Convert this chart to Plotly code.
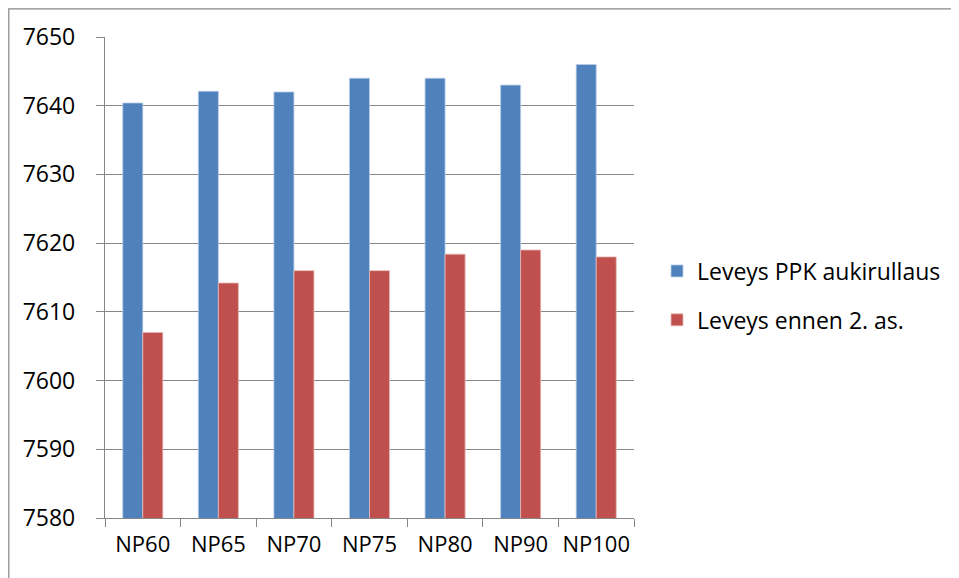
import plotly.graph_objects as go

categories = ["NP60", "NP65", "NP70", "NP75", "NP80", "NP90", "NP100"]
ppk_aukirullaus = [7640.4, 7642.1, 7642.0, 7644.0, 7644.0, 7643.0, 7646.0]
ennen_2_as = [7607.0, 7614.2, 7616.0, 7616.0, 7618.4, 7619.0, 7618.0]
y_ticks = [7580, 7590, 7600, 7610, 7620, 7630, 7640, 7650]

# page is drawn with an 8px body margin; coordinates below are figure coords
OFF = 8
W, H = 959, 578
L = 105 - OFF
T = 37 - OFF
plot_right = 634 - OFF
plot_bottom = 518 - OFF
R = W - plot_right
B = H - plot_bottom
pw = plot_right - L
ph = plot_bottom - T

fig = go.Figure()
fig.add_trace(go.Bar(
    x=categories, y=ppk_aukirullaus, name="Leveys PPK aukirullaus",
    marker=dict(color="#4F81BD", line=dict(color="#B9CDE5", width=0.8)),
    legendgroup="a",
))
fig.add_trace(go.Bar(
    x=categories, y=ennen_2_as, name="Leveys ennen 2. as.",
    marker=dict(color="#C0504D", line=dict(color="#E6B9B8", width=0.8)),
    legendgroup="b",
))

font_family = "Open Sans, Noto Sans, sans-serif"

fig.update_layout(
    width=W, height=H,
    margin=dict(l=L, r=R, t=T, b=B, autoexpand=False),
    paper_bgcolor="white", plot_bgcolor="white",
    barmode="group", bargap=0.47, bargroupgap=0,
    font=dict(family=font_family, size=23, color="#000000"),
    showlegend=True,
    legend=dict(
        x=1 + (657 - OFF - plot_right) / pw, xanchor="left",
        y=0.5 - 18 / ph, yanchor="middle",
        font=dict(size=23, family=font_family),
        traceorder="grouped", tracegroupgap=16,
        bgcolor="rgba(0,0,0,0)",
    ),
    xaxis=dict(
        showline=True, linecolor="#868686", linewidth=1.3,
        ticks="outside", ticklen=8, tickcolor="#868686", tickwidth=1.3,
        tickson="boundaries", showgrid=False,
        tickfont=dict(size=22), ticklabelstandoff=6, tickangle=0,
        automargin=False,
    ),
    yaxis=dict(
        range=[7580, 7650], tickvals=y_ticks,
        showline=True, linecolor="#868686", linewidth=1.3,
        ticks="outside", ticklen=8, tickcolor="#868686", tickwidth=1.3,
        showgrid=True, gridcolor="#878787", gridwidth=1.4,
        tickfont=dict(size=23), ticklabelstandoff=16,
        zeroline=False, automargin=False,
    ),
)

# outer chart border (left and top edges visible)
fig.add_shape(
    type="rect", xref="paper", yref="paper",
    x0=(0.8 - L) / pw, x1=(W + 20 - L) / pw,
    y0=-(H + 20 - plot_bottom) / ph, y1=(plot_bottom - 0.8) / ph,
    line=dict(color="#868686", width=1.2), fillcolor="rgba(0,0,0,0)",
    layer="below",
)

fig.write_html("out.html")
